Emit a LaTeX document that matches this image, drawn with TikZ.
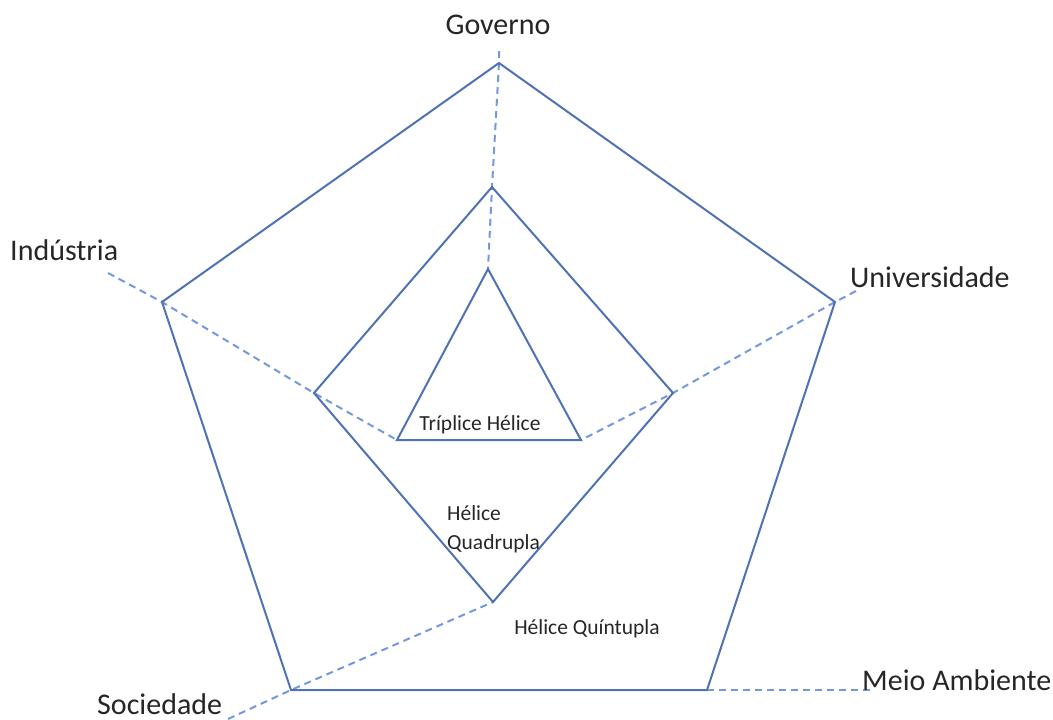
\documentclass[tikz,border=0pt]{standalone}
\usepackage{fontspec}
\setmainfont{Carlito}
\definecolor{edgeblue}{HTML}{4E72B4}
\definecolor{axisblue}{HTML}{7299DC}
\tikzset{
  helix/.style={draw=edgeblue, line width=2pt, line join=miter},
  axisline/.style={draw=axisblue, line width=2pt, dash pattern=on 7pt off 5pt},
  biglabel/.style={inner sep=0pt, text=black!85, font=\fontsize{30}{34}\selectfont},
  smalllabel/.style={inner sep=0pt, text=black!85, font=\fontsize{21.5}{29}\selectfont},
}
\begin{document}
\begin{tikzpicture}[x=1pt, y=-1pt]
\useasboundingbox (0,0) rectangle (1053,720);

% outer pentagon (five helices)
\coordinate (pG) at (499,63);
\coordinate (pI) at (162,302);
\coordinate (pU) at (835,302);
\coordinate (pS) at (291,690);
\coordinate (pM) at (707,690);
% middle quadrilateral (four helices)
\coordinate (qG) at (492,187);
\coordinate (qI) at (314,393);
\coordinate (qU) at (673,393);
\coordinate (qS) at (493,602);
% inner triangle (three helices)
\coordinate (tG) at (488,269);
\coordinate (tI) at (397,440);
\coordinate (tU) at (581,440);

% free ends of the axes
\coordinate (eG) at (499,51);
\coordinate (eI) at (108,273);
\coordinate (eU) at (856,291);
\coordinate (eS) at (228,719);
\coordinate (eM) at (870,690);

% axes
\draw[axisline] (eG) -- (pG) -- (qG) -- (tG);
\draw[axisline] (eI) -- (pI) -- (qI) -- (tI);
\draw[axisline] (eU) -- (pU) -- (qU) -- (tU);
\draw[axisline] (eS) -- (pS) -- (qS);
\draw[axisline] (pM) -- (eM);

% polygons
\draw[helix] (pG) -- (pU) -- (pM) -- (pS) -- (pI) -- cycle;
\draw[helix] (qG) -- (qU) -- (qS) -- (qI) -- cycle;
\draw[helix] (tG) -- (tU) -- (tI) -- cycle;

% labels
\node[biglabel] (lG) at (498,25) {Governo};
\node[biglabel, anchor=west] (lI) at (10,250) {Indústria};
\node[biglabel, anchor=west] (lU) at (850,277) {Universidade};
\node[biglabel, anchor=west] (lM) at (862,680) {Meio Ambiente};
\node[biglabel, anchor=west] (lS) at (97,704) {Sociedade};

\node[smalllabel] (l3) at (480,425) {Tríplice Hélice};
\node[smalllabel, anchor=north west, align=left] (l4) at (447,505) {Hélice\\Quadrupla};
\node[smalllabel] (l5) at (587,629) {Hélice Quíntupla};
\end{tikzpicture}
\end{document}
